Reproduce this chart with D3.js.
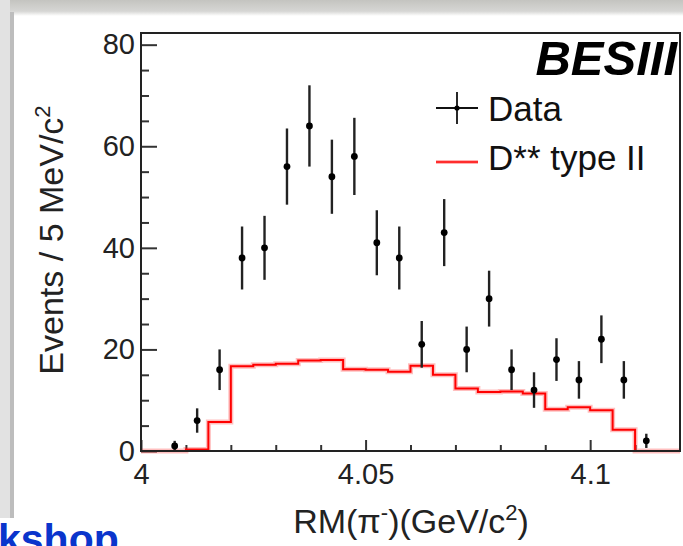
<!DOCTYPE html>
<html>
<head>
<meta charset="utf-8">
<script src="https://d3js.org/d3.v7.min.js"></script>
<style>
  body { margin: 0; background: #fff; }
  svg { display: block; font-family: "Liberation Sans", Arial, Helvetica, sans-serif; }
</style>
</head>
<body>
<svg id="chart" width="683" height="546"></svg>
<script>
// data points (bin centres, 5 MeV bins)
const dataMass = [4.0075, 4.0125, 4.0175, 4.0225, 4.0275, 4.0325, 4.0375, 4.0425, 4.0475, 4.0525, 4.0575,
                  4.0625, 4.0675, 4.0725, 4.0775, 4.0825, 4.0875, 4.0925, 4.0975, 4.1025, 4.1075, 4.1125];
const dataCounts = [1, 6, 16, 38, 40, 56, 64, 54, 58, 41, 38, 21, 43, 20, 30, 16, 12, 18, 14, 22, 14, 2];
const dataErrors = [1, 2.4, 4, 6.2, 6.3, 7.5, 8, 7.3, 7.6, 6.4, 6.2, 4.6, 6.6, 4.5, 5.5, 4, 3.5, 4.2, 3.7, 4.7, 3.7, 1.4];

// D** type II histogram (low bin edges + contents)
const typeIIEdges = [4.000, 4.005, 4.010, 4.015, 4.020, 4.025, 4.030, 4.035, 4.040, 4.045, 4.050, 4.055,
                     4.060, 4.065, 4.070, 4.075, 4.080, 4.085, 4.090, 4.095, 4.100, 4.105, 4.110, 4.115];
const typeIIValues = [0, 0, 0.3, 5.7, 16.7, 17.0, 17.2, 17.8, 17.9, 16.1, 16.0, 15.6,
                      16.8, 15.0, 12.3, 11.6, 11.7, 11.3, 8.2, 8.6, 8.0, 4.2, 0, 0];

const xTicks = [4, 4.05, 4.1];
const xTickLabels = ["4", "4.05", "4.1"];
const xMinorTicks = [4.01, 4.02, 4.03, 4.04, 4.06, 4.07, 4.08, 4.09, 4.11];
const yTicks = [0, 20, 40, 60, 80];
const yMinorTicks = [5, 10, 15, 25, 30, 35, 45, 50, 55, 65, 70, 75];
const legendLabels = ["Data", "D** type II"];

const svg = d3.select("#chart");

// slide background bits (screenshot edges)
const topGrad = svg.append("defs").append("linearGradient")
  .attr("id", "topband").attr("x1", 0).attr("y1", 0).attr("x2", 0).attr("y2", 1);
topGrad.append("stop").attr("offset", "0%").attr("stop-color", "#c4c4c0");
topGrad.append("stop").attr("offset", "70%").attr("stop-color", "#d6d6d4");
topGrad.append("stop").attr("offset", "100%").attr("stop-color", "#ffffff");
svg.append("rect").attr("x", 0).attr("y", 0).attr("width", 683).attr("height", 16).attr("fill", "url(#topband)");
svg.append("rect").attr("x", 0).attr("y", 0).attr("width", 10).attr("height", 518).attr("fill", "#e2e2e2");
svg.append("rect").attr("x", 10).attr("y", 12).attr("width", 4).attr("height", 506).attr("fill", "#bdbdbd");

// bit of the slide footer, cut by the screenshot
svg.append("text")
  .attr("x", -2).attr("y", 553)
  .attr("font-size", "41px").attr("font-weight", "bold")
  .attr("fill", "#0a35cc")
  .text("kshop");

// frame
const frame = { left: 141, right: 680, top: 33, bottom: 451 };

const x = d3.scaleLinear().domain([4, 4.12]).range([frame.left, frame.right]);
const y = d3.scaleLinear().domain([0, 82.3]).range([frame.bottom, frame.top]);

// axes
svg.append("g")
  .attr("transform", "translate(0," + frame.bottom + ")")
  .call(d3.axisBottom(x).tickValues(xTicks).tickSize(-11).tickSizeOuter(0).tickPadding(12)
    .tickFormat((d, i) => xTickLabels[i]));
svg.append("g")
  .attr("transform", "translate(0," + frame.bottom + ")")
  .call(d3.axisBottom(x).tickValues(xMinorTicks).tickSize(-6).tickSizeOuter(0).tickFormat(""));

svg.append("g")
  .attr("transform", "translate(" + frame.left + ",0)")
  .call(d3.axisLeft(y).tickValues(yTicks).tickSize(-16).tickSizeOuter(0).tickPadding(6));
svg.append("g")
  .attr("transform", "translate(" + frame.left + ",0)")
  .call(d3.axisLeft(y).tickValues(yMinorTicks).tickSize(-8).tickSizeOuter(0).tickFormat(""));

svg.selectAll(".domain").remove();
svg.selectAll(".tick line").attr("stroke", "#333").attr("stroke-width", 2);
svg.selectAll(".tick text").attr("font-size", "29px").attr("fill", "#222")
  .attr("font-family", "'Liberation Sans', Arial, sans-serif");

// red histogram
const stepPts = typeIIEdges.map((e, i) => [e, typeIIValues[i]]);
stepPts.push([4.12, typeIIValues[typeIIValues.length - 1]]);
const stepLine = d3.line().x(d => x(d[0])).y(d => y(d[1])).curve(d3.curveStepAfter);
svg.append("path").attr("d", stepLine(stepPts))
  .attr("fill", "none").attr("stroke", "#ff0000").attr("stroke-opacity", 0.25).attr("stroke-width", 5);
svg.append("path").attr("d", stepLine(stepPts))
  .attr("fill", "none").attr("stroke", "#ff0000").attr("stroke-width", 2);

// data points with errors
const pts = svg.append("g").selectAll("g")
  .data(dataMass.map((m, i) => ({ m: m, n: dataCounts[i], e: dataErrors[i] })))
  .join("g");
pts.append("line")
  .attr("x1", d => x(d.m)).attr("x2", d => x(d.m))
  .attr("y1", d => y(d.n + d.e)).attr("y2", d => y(Math.max(0, d.n - d.e)))
  .attr("stroke", "#222").attr("stroke-width", 2.4);
pts.append("circle")
  .attr("cx", d => x(d.m)).attr("cy", d => y(d.n)).attr("r", 3.4)
  .attr("fill", "#000");

// frame box
svg.append("rect")
  .attr("x", frame.left).attr("y", frame.top)
  .attr("width", frame.right - frame.left).attr("height", frame.bottom - frame.top)
  .attr("fill", "none").attr("stroke", "#222").attr("stroke-width", 2);

// BESIII label
svg.append("text")
  .attr("x", 677).attr("y", 75)
  .attr("text-anchor", "end")
  .attr("font-size", "49px").attr("font-weight", "bold").attr("font-style", "italic")
  .text("BESIII");

// legend
const leg = svg.append("g");
leg.append("line").attr("x1", 436).attr("x2", 478).attr("y1", 108).attr("y2", 108)
  .attr("stroke", "#111").attr("stroke-width", 1.8);
leg.append("line").attr("x1", 457).attr("x2", 457).attr("y1", 92).attr("y2", 124)
  .attr("stroke", "#111").attr("stroke-width", 1.8);
leg.append("circle").attr("cx", 457).attr("cy", 108).attr("r", 2.6).attr("fill", "#000");
leg.append("line").attr("x1", 436).attr("x2", 478).attr("y1", 162).attr("y2", 162)
  .attr("stroke", "#ff0000").attr("stroke-opacity", 0.3).attr("stroke-width", 4);
leg.append("line").attr("x1", 436).attr("x2", 478).attr("y1", 162).attr("y2", 162)
  .attr("stroke", "#ff0000").attr("stroke-width", 1.6);
leg.selectAll("text").data(legendLabels).join("text")
  .attr("x", 488).attr("y", (d, i) => 121 + i * 49)
  .attr("font-size", "35px").attr("fill", "#111")
  .text(d => d);

// axis titles
const xt = svg.append("text")
  .attr("x", 411).attr("y", 533)
  .attr("text-anchor", "middle").attr("font-size", "34px").attr("fill", "#222");
xt.append("tspan").text("RM(\u03c0");
xt.append("tspan").attr("font-size", "22px").attr("dy", -13).text("-");
xt.append("tspan").attr("dy", 13).text(")(GeV/c");
xt.append("tspan").attr("font-size", "22px").attr("dy", -13).text("2");
xt.append("tspan").attr("dy", 13).text(")");

const yt = svg.append("text")
  .attr("transform", "translate(63,240) rotate(-90)")
  .attr("text-anchor", "middle").attr("font-size", "34px").attr("fill", "#222");
yt.append("tspan").text("Events / 5 MeV/c");
yt.append("tspan").attr("font-size", "22px").attr("dy", -13).text("2");
</script>
</body>
</html>
